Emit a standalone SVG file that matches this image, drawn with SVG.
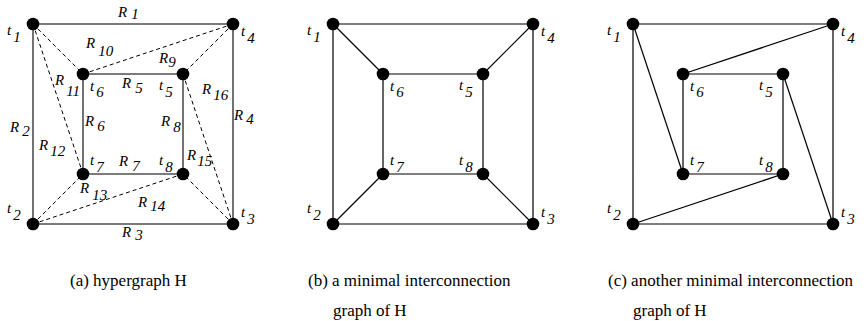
<svg xmlns="http://www.w3.org/2000/svg" width="864" height="321" viewBox="0 0 864 321">
<style>
.s{stroke:#505050;stroke-width:1.6;fill:none}
.k{stroke:#000;stroke-width:1.2;fill:none}
.d{stroke:#000;stroke-width:1;stroke-dasharray:4 3;fill:none}
.n{fill:#000}
.l{font-family:"Liberation Serif","Times New Roman","DejaVu Serif",serif;font-style:italic;font-size:15px;fill:#000}
.c{font-family:"Liberation Serif","Times New Roman","DejaVu Serif",serif;font-size:17px;fill:#000}
</style>
<rect width="864" height="321" fill="#fff"/>
<g id="connectors">
<path class="s" d="M33,24H233V224H33Z M83,74H183V174H83Z"/>
<path class="d" d="M33,24L83,74 M33,24L83,174 M233,24L83,74 M233,24L183,74 M33,224L83,174 M33,224L183,174 M233,224L183,174 M233,224L183,74"/>
<path class="k" d="M333,24H533V224H333Z M383,74H483V174H383Z M333,24L383,74 M533,24L483,74 M333,224L383,174 M533,224L483,174"/>
<path class="k" d="M633,24H833V224H633Z M683,74H783V174H683Z M633,24L683,174 M833,24L683,74 M633,224L783,174 M833,224L783,74"/>
</g>
<g id="a_t1"><circle class="n" cx="33" cy="24" r="6.3"/><text class="l" x="7" y="35">t<tspan dx="2" dy="7">1</tspan></text></g>
<g id="a_t4"><circle class="n" cx="233" cy="24" r="6.3"/><text class="l" x="241" y="36">t<tspan dx="2" dy="7">4</tspan></text></g>
<g id="a_t6"><circle class="n" cx="83" cy="74" r="6.3"/><text class="l" x="90" y="91">t<tspan dx="2" dy="6">6</tspan></text></g>
<g id="a_t5"><circle class="n" cx="183" cy="74" r="6.3"/><text class="l" x="159" y="90">t<tspan dx="2" dy="7">5</tspan></text></g>
<g id="a_t7"><circle class="n" cx="83" cy="174" r="6.3"/><text class="l" x="90" y="165">t<tspan dx="2" dy="7">7</tspan></text></g>
<g id="a_t8"><circle class="n" cx="183" cy="174" r="6.3"/><text class="l" x="159" y="165">t<tspan dx="2" dy="7">8</tspan></text></g>
<g id="a_t2"><circle class="n" cx="33" cy="224" r="6.3"/><text class="l" x="7" y="213">t<tspan dx="2" dy="7">2</tspan></text></g>
<g id="a_t3"><circle class="n" cx="233" cy="224" r="6.3"/><text class="l" x="241" y="217">t<tspan dx="2" dy="7">3</tspan></text></g>
<g id="a_labels">
<text class="l" x="118" y="17">R<tspan dx="4" dy="2">1</tspan></text>
<text class="l" x="86" y="48">R<tspan dx="3" dy="8">10</tspan></text>
<text class="l" x="159" y="63">R<tspan dx="0" dy="4">9</tspan></text>
<text class="l" x="55" y="85">R<tspan dx="2" dy="11">11</tspan></text>
<text class="l" x="122" y="88">R<tspan dx="4" dy="5">5</tspan></text>
<text class="l" x="202" y="94">R<tspan dx="2" dy="6">16</tspan></text>
<text class="l" x="10" y="132">R<tspan dx="3" dy="4">2</tspan></text>
<text class="l" x="85" y="126">R<tspan dx="3" dy="5">6</tspan></text>
<text class="l" x="161" y="126">R<tspan dx="3" dy="6">8</tspan></text>
<text class="l" x="234" y="120">R<tspan dx="3" dy="4">4</tspan></text>
<text class="l" x="39" y="150">R<tspan dx="2" dy="6">12</tspan></text>
<text class="l" x="119" y="166">R<tspan dx="4" dy="5">7</tspan></text>
<text class="l" x="187" y="160">R<tspan dx="1" dy="6">15</tspan></text>
<text class="l" x="80" y="193">R<tspan dx="3" dy="7">13</tspan></text>
<text class="l" x="138" y="207">R<tspan dx="3" dy="4">14</tspan></text>
<text class="l" x="122" y="237">R<tspan dx="4" dy="3">3</tspan></text>
</g>
<g id="b_t1"><circle class="n" cx="333" cy="24" r="6.3"/><text class="l" x="307" y="35">t<tspan dx="2" dy="7">1</tspan></text></g>
<g id="b_t4"><circle class="n" cx="533" cy="24" r="6.3"/><text class="l" x="541" y="36">t<tspan dx="2" dy="7">4</tspan></text></g>
<g id="b_t6"><circle class="n" cx="383" cy="74" r="6.3"/><text class="l" x="390" y="91">t<tspan dx="2" dy="6">6</tspan></text></g>
<g id="b_t5"><circle class="n" cx="483" cy="74" r="6.3"/><text class="l" x="459" y="90">t<tspan dx="2" dy="7">5</tspan></text></g>
<g id="b_t7"><circle class="n" cx="383" cy="174" r="6.3"/><text class="l" x="390" y="165">t<tspan dx="2" dy="7">7</tspan></text></g>
<g id="b_t8"><circle class="n" cx="483" cy="174" r="6.3"/><text class="l" x="459" y="165">t<tspan dx="2" dy="7">8</tspan></text></g>
<g id="b_t2"><circle class="n" cx="333" cy="224" r="6.3"/><text class="l" x="307" y="213">t<tspan dx="2" dy="7">2</tspan></text></g>
<g id="b_t3"><circle class="n" cx="533" cy="224" r="6.3"/><text class="l" x="541" y="217">t<tspan dx="2" dy="7">3</tspan></text></g>
<g id="c_t1"><circle class="n" cx="633" cy="24" r="6.3"/><text class="l" x="607" y="35">t<tspan dx="2" dy="7">1</tspan></text></g>
<g id="c_t4"><circle class="n" cx="833" cy="24" r="6.3"/><text class="l" x="841" y="36">t<tspan dx="2" dy="7">4</tspan></text></g>
<g id="c_t6"><circle class="n" cx="683" cy="74" r="6.3"/><text class="l" x="690" y="91">t<tspan dx="2" dy="6">6</tspan></text></g>
<g id="c_t5"><circle class="n" cx="783" cy="74" r="6.3"/><text class="l" x="759" y="90">t<tspan dx="2" dy="7">5</tspan></text></g>
<g id="c_t7"><circle class="n" cx="683" cy="174" r="6.3"/><text class="l" x="690" y="165">t<tspan dx="2" dy="7">7</tspan></text></g>
<g id="c_t8"><circle class="n" cx="783" cy="174" r="6.3"/><text class="l" x="759" y="165">t<tspan dx="2" dy="7">8</tspan></text></g>
<g id="c_t2"><circle class="n" cx="633" cy="224" r="6.3"/><text class="l" x="607" y="213">t<tspan dx="2" dy="7">2</tspan></text></g>
<g id="c_t3"><circle class="n" cx="833" cy="224" r="6.3"/><text class="l" x="841" y="217">t<tspan dx="2" dy="7">3</tspan></text></g>
<g id="captions">
<text class="c" x="70" y="286">(a) hypergraph H</text>
<text class="c" x="308" y="286">(b) a minimal interconnection</text>
<text class="c" x="333" y="316">graph of H</text>
<text class="c" x="608" y="286">(c) another minimal interconnection</text>
<text class="c" x="633" y="316">graph of H</text>
</g>
</svg>
